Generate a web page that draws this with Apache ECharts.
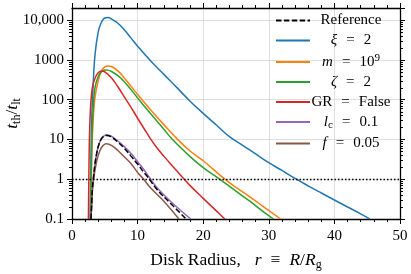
<!DOCTYPE html>
<html><head><meta charset="utf-8">
<script src="https://cdn.jsdelivr.net/npm/echarts@6/dist/echarts.min.js"></script>
<style>html,body{margin:0;padding:0;background:#fff}#c{width:411px;height:274px}</style>
</head><body><div id="c"></div>
<script>
// ---- data ----
const X_MIN = 0, X_MAX = 50, X_STEP = 10;
const Y_MIN = 0.1, Y_MAX = 20000;
const Y_TICK_LABELS = ['0.1', '1', '10', '100', '1000', '10,000'];
const THRESHOLD = 1;
const SERIES_NAMES = ['Reference', 'xi', 'm', 'zeta', 'GR', 'lc', 'f'];

const reference = [[2.9,0.1],[3.0,0.25],[3.1,0.56],[3.25,1.0],[3.5,2.4],[3.75,4.3],[4.0,6.6],[4.5,10.5],[5.0,12.3],[5.3,12.6],[6.0,11.5],[7.0,8.5],[8.0,5.9],[9.0,3.8],[10.0,2.4],[11.0,1.45],[11.6,1.1],[13.0,0.54],[15.0,0.25],[17.4,0.1]];
const xi = [[2.75,0.1],[2.9,5],[3.0,30],[3.2,190],[3.5,1300],[4.0,5000],[4.5,8900],[5.0,11200],[5.5,11500],[6.0,10700],[7.0,8300],[8.0,5600],[9.0,3500],[10.0,2200],[12.0,930],[14.0,430],[16.0,200],[18.0,91],[20.0,45],[22.0,23],[24.0,11.7],[26.0,7.1],[28.0,4.3],[30.0,2.6],[32.0,1.66],[34.2,1.0],[36.0,0.68],[38.0,0.45],[40.0,0.30],[42.0,0.20],[44.0,0.135],[45.4,0.1]];
const mass = [[2.9,0.1],[3.0,3],[3.2,25],[3.5,110],[4.0,300],[4.5,530],[5.0,660],[5.5,700],[6.0,680],[7.0,525],[8.0,345],[9.0,215],[10.0,134],[12.0,55],[14.0,23.5],[16.2,9.6],[18.0,5.1],[20.0,2.9],[23.3,1.0],[25.0,0.62],[27.1,0.36],[29.0,0.215],[31.8,0.1]];
const zeta = [[2.85,0.1],[3.0,6],[3.2,50],[3.5,200],[4.0,380],[4.5,500],[5.0,555],[5.5,550],[6.0,510],[7.0,400],[8.0,278],[9.0,178],[10.0,110],[12.0,44],[14.0,18],[15.4,9.6],[18.0,3.7],[20.0,1.95],[22.5,1.0],[25.0,0.5],[27.1,0.28],[29.0,0.16],[30.7,0.1]];
const grFalse = [[2.5,0.1],[2.6,3],[2.7,20],[2.9,100],[3.15,220],[3.5,340],[4.0,470],[4.5,525],[5.0,500],[6.0,355],[7.0,210],[8.0,115],[9.0,64],[10.0,34],[11.0,18.5],[12.0,10.2],[13.0,6.0],[14.0,3.8],[15.0,2.45],[16.0,1.6],[17.1,1.0],[18.0,0.69],[20.0,0.33],[22.0,0.16],[23.3,0.1]];
const lc = [[2.9,0.1],[3.0,0.25],[3.1,0.56],[3.25,1.0],[3.5,2.4],[3.75,4.3],[4.0,6.6],[4.5,10.7],[5.0,12.6],[5.3,13.1],[6.0,12.0],[7.0,9.1],[8.0,6.5],[9.0,4.4],[10.0,2.75],[11.0,1.7],[11.8,1.1],[13.0,0.6],[15.0,0.28],[18.1,0.1]];
const fSmall = [[2.9,0.1],[3.0,0.22],[3.1,0.48],[3.3,1.0],[3.5,1.66],[3.75,2.75],[4.0,4.0],[4.5,6.3],[5.0,7.6],[5.3,7.8],[6.0,7.1],[7.0,5.25],[8.0,3.6],[9.0,2.45],[10.0,1.48],[10.8,1.05],[12.0,0.6],[14.0,0.28],[16.3,0.1]];

// ---- styling ----
const FONT = 'Liberation Serif';
const COLORS = {xi:'#1f77b4', m:'#ff7f0e', zeta:'#2ca02c', GR:'#d62728', lc:'#9467bd', f:'#8c564b', Reference:'#000000'};
const LEGEND_TEXT = {
  Reference: '{n|Reference}',
  xi: '{i|ξ}{e|=}{n|2}',
  m: '{i|m}{e|=}{n|10}{sp|9}',
  zeta: '{i|ζ}{e|=}{n|2}',
  GR: '{n|GR}{e|=}{n|False}',
  lc: '{i|l}{sb|c}{e|=}{n|0.1}',
  f: '{i|f}{e|=}{n|0.05}'
};

const chart = echarts.init(document.getElementById('c'), null, {renderer: 'canvas'});

function lineSeries(name, data, color, dash) {
  return {
    name, type: 'line', data, showSymbol: false, symbol: 'none',
    smooth: 0.4, clip: true,
    lineStyle: {color, width: 1.5, type: dash || 'solid'},
    itemStyle: {color},
    emphasis: {disabled: true}, animation: false
  };
}

const axisCommonX = {
  type: 'value', min: X_MIN, max: X_MAX, interval: X_STEP,
  axisLine: {show: true, onZero: false, lineStyle: {color: '#000', width: 1.3}},
  axisTick: {show: true, length: 5, lineStyle: {color: '#000', width: 1}},
  minorTick: {show: true, splitNumber: 5, length: 3, lineStyle: {color: '#000', width: 1}}
};
const axisCommonY = {
  type: 'log', logBase: 10, min: Y_MIN, max: Y_MAX,
  axisLine: {show: true, onZero: false, lineStyle: {color: '#000', width: 1.3}},
  axisTick: {show: true, length: 5, lineStyle: {color: '#000', width: 1}}
};

function yLabel(v) {
  const l = Math.log10(v), e = Math.round(l);
  if (Math.abs(l - e) > 1e-6) return '';
  const lab = Y_TICK_LABELS[e + 1];
  return lab === undefined ? '' : lab;
}

const rich = {
  n: {fontFamily: FONT, fontSize: 15, color: '#000', align: 'center', lineHeight: 18},
  i: {fontFamily: FONT, fontSize: 15, fontStyle: 'italic', color: '#000', align: 'center', lineHeight: 18},
  e: {fontFamily: FONT, fontSize: 15, color: '#000', padding: [0, 9], align: 'center', lineHeight: 18},
  sp: {fontFamily: FONT, fontSize: 11, color: '#000', verticalAlign: 'top', align: 'center', lineHeight: 18},
  sb: {fontFamily: FONT, fontSize: 11, color: '#000', verticalAlign: 'bottom', align: 'center', lineHeight: 18}
};

const titleRich = {
  n: {fontFamily: FONT, fontSize: 17.5, color: '#000', lineHeight: 22},
  i: {fontFamily: FONT, fontSize: 17.5, fontStyle: 'italic', color: '#000', lineHeight: 22},
  r: {fontFamily: FONT, fontSize: 17.5, fontStyle: 'italic', color: '#000', lineHeight: 22, padding: [0, 9, 0, 14]},
  q: {fontFamily: FONT, fontSize: 17.5, color: '#000', lineHeight: 22, padding: [0, 9, 0, 0]},
  s: {fontFamily: FONT, fontSize: 12, color: '#000', verticalAlign: 'bottom', lineHeight: 22}
};

const option = {
  backgroundColor: '#fff',
  animation: false,
  grid: {left: 72, right: 11, top: 8, bottom: 55, containLabel: false, outerBoundsMode: 'none'},
  legend: {
    orient: 'vertical', left: 275, top: 13, padding: 0,
    itemWidth: 34, itemHeight: 14, itemGap: 5,
    data: SERIES_NAMES,
    formatter: name => LEGEND_TEXT[name],
    itemStyle: {color: 'rgba(0,0,0,0)', borderColor: 'rgba(0,0,0,0)', borderWidth: 0, opacity: 0},
    textStyle: {fontFamily: FONT, fontSize: 15, color: '#000', width: 72, rich},
    selectedMode: false
  },
  xAxis: [
    Object.assign({}, axisCommonX, {
      position: 'bottom',
      axisLabel: {show: true, margin: 10, fontFamily: FONT, fontSize: 15, color: '#000'},
      splitLine: {show: true, lineStyle: {color: '#dedede', width: 1}},
      name: '{n|Disk Radius,}{r|r}{q|≡}{i|R}{n|/}{i|R}{s|g}',
      nameLocation: 'middle', nameGap: 30, nameMoveOverlap: false,
      nameTextStyle: {rich: titleRich}
    }),
    Object.assign({}, axisCommonX, {
      position: 'top',
      axisLabel: {show: false}, splitLine: {show: false}
    })
  ],
  yAxis: [
    Object.assign({}, axisCommonY, {
      position: 'left',
      axisLabel: {show: true, margin: 8, fontFamily: FONT, fontSize: 15, color: '#000', formatter: yLabel, showMaxLabel: false},
      splitLine: {show: true, lineStyle: {color: '#dedede', width: 1}},
      name: '{i|t}{s|th}{n|/}{i|t}{s|lt}',
      nameLocation: 'middle', nameGap: 49, nameRotate: 90, nameMoveOverlap: false,
      nameTextStyle: {rich: titleRich}
    }),
    Object.assign({}, axisCommonY, {
      position: 'right',
      axisLabel: {show: false}, splitLine: {show: false}
    })
  ],
  series: [
    lineSeries('xi', xi, COLORS.xi),
    lineSeries('m', mass, COLORS.m),
    lineSeries('zeta', zeta, COLORS.zeta),
    lineSeries('GR', grFalse, COLORS.GR),
    lineSeries('lc', lc, COLORS.lc),
    lineSeries('f', fSmall, COLORS.f),
    {
      name: 'threshold', type: 'line', data: [], silent: true,
      markLine: {
        silent: true, symbol: 'none', animation: false,
        label: {show: false},
        lineStyle: {color: '#000', width: 1.4, type: [1.5, 2]},
        data: [{yAxis: THRESHOLD}]
      }
    },
    lineSeries('Reference', reference, COLORS.Reference, [5.5, 2.4])
  ]
};
chart.setOption(option);

// log minor ticks (2..9 x 10^k) on left and right spines, positioned through the axis scale
const xl = chart.convertToPixel({xAxisIndex: 0}, X_MIN);
const xr = chart.convertToPixel({xAxisIndex: 0}, X_MAX);
const minor = [];
for (let k = -1; k <= 4; k++) {
  for (let m = 2; m <= 9; m++) {
    const v = m * Math.pow(10, k);
    if (v >= Y_MAX) continue;
    const py = Math.round(chart.convertToPixel({yAxisIndex: 0}, v)) + 0.5;
    minor.push({type: 'line', shape: {x1: xl - 3, y1: py, x2: xl, y2: py}, style: {stroke: '#000', lineWidth: 1}, silent: true});
    minor.push({type: 'line', shape: {x1: xr, y1: py, x2: xr + 3, y2: py}, style: {stroke: '#000', lineWidth: 1}, silent: true});
  }
}
chart.setOption({graphic: minor});
</script>
</body></html>
